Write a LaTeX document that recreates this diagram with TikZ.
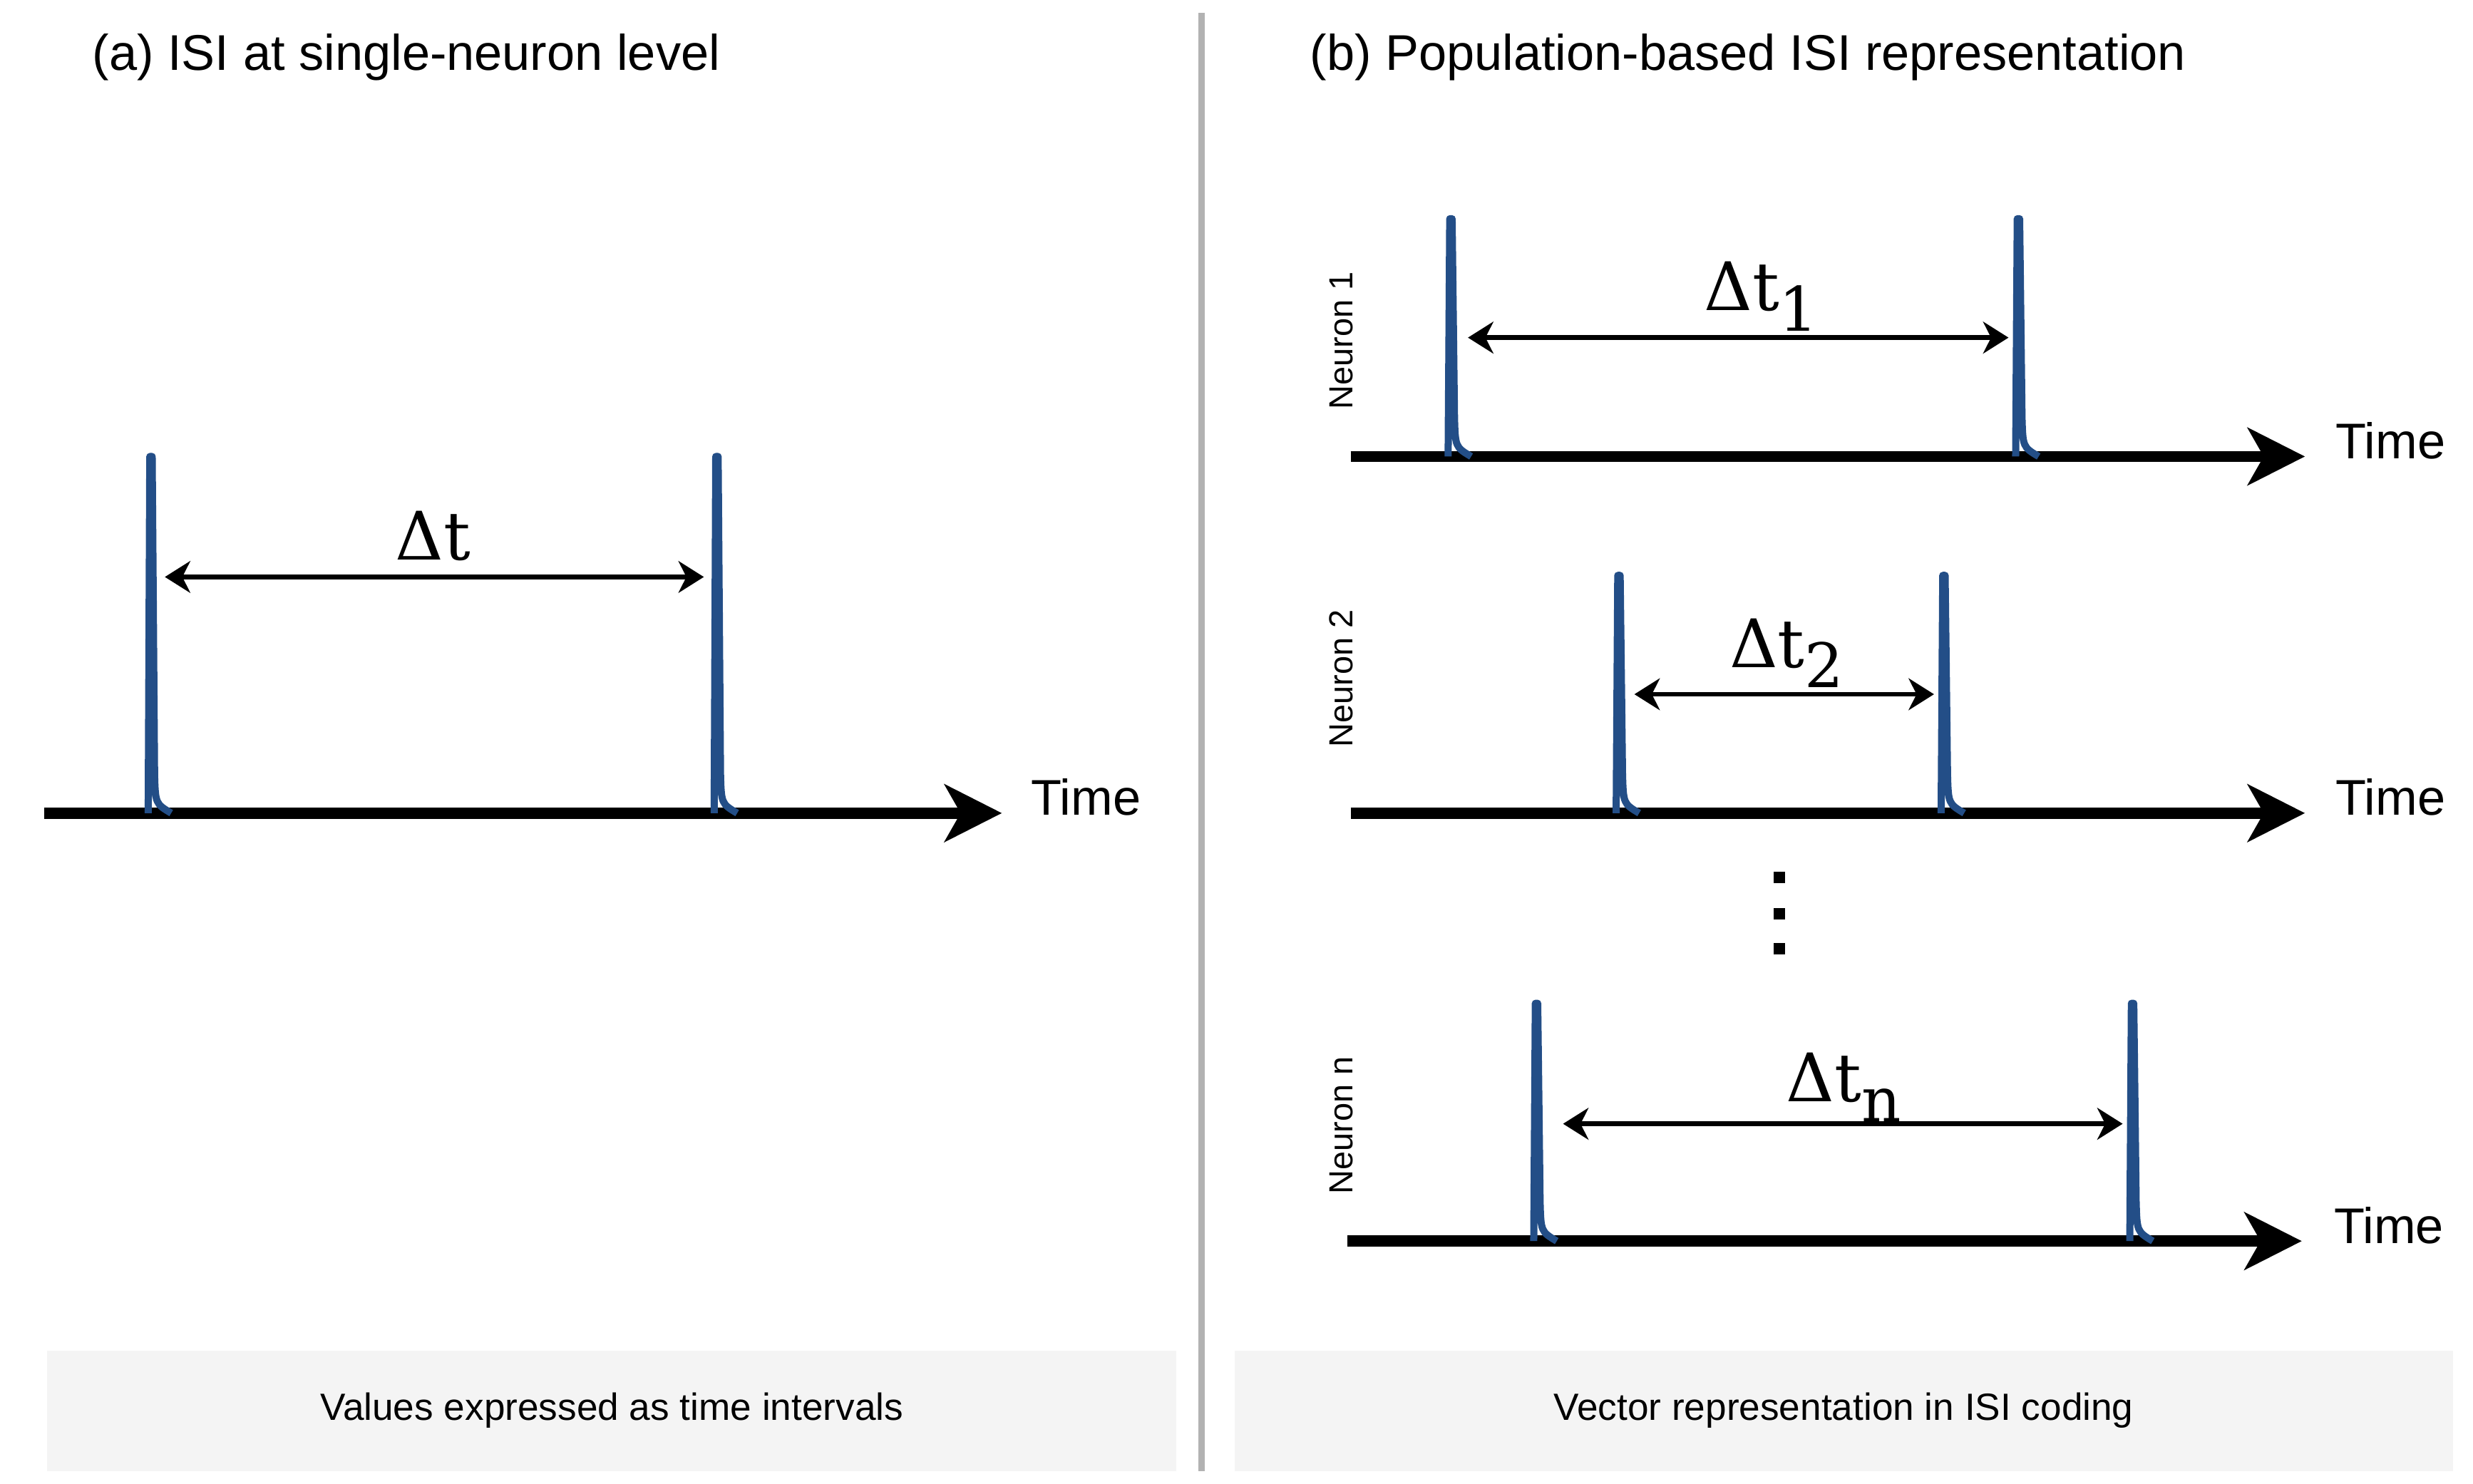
\documentclass[tikz,border=0pt]{standalone}
\usepackage{fontspec}
\setmainfont{Liberation Sans}
\newfontfamily\dserif{DejaVu Serif}
\usetikzlibrary{arrows.meta}
\definecolor{spikeblue}{HTML}{234E87}
\definecolor{boxgray}{HTML}{F4F4F4}
\newcommand{\dsub}[1]{\raisebox{-0.3em}{\fontsize{11pt}{11pt}\selectfont #1}}
\begin{document}
\begin{tikzpicture}[x=0.01cm,y=-0.01cm,
  axis/.style={line width=0.07cm,-{Stealth[length=0.36cm,width=0.36cm,inset=0.1cm]}},
  interval/.style={line width=0.03cm,{Stealth[length=0.16cm,width=0.2cm,inset=0.05cm]}-{Stealth[length=0.16cm,width=0.2cm,inset=0.05cm]}},
  spike/.style={spikeblue,line width=0.045cm,line join=round},
  ttl/.style={font=\fontsize{9pt}{10pt}\selectfont,anchor=west},
  timelbl/.style={font=\fontsize{9pt}{10pt}\selectfont},
  dlbl/.style={font=\dserif\fontsize{12pt}{13pt}\selectfont},
  nlbl/.style={font=\fontsize{6pt}{7pt}\selectfont,rotate=90},
  capbox/.style={fill=boxgray,font=\fontsize{6.8pt}{8pt}\selectfont,inner sep=0pt}
]
\useasboundingbox (0,0) rectangle (1560,936);
\newcommand{\spk}[3]{% x, top, bottom
  \draw[spike] (#1-1.5,#3) -- (#1-0.5,#2) -- (#1+1,#2) -- (#1+2.5,#3-25) .. controls (#1+3,#3-6) .. (#1+13,#3);}
% divider
\draw[gray!60,line width=0.04cm] (758,8) -- (758,928);
% captions
\node[capbox,minimum width=7.12cm,minimum height=0.76cm] (capa) at (386,890) {Values expressed as time intervals};
\node[capbox,minimum width=7.68cm,minimum height=0.76cm] (capb) at (1163,890) {Vector representation in ISI coding};
% titles
\node[ttl] (ta) at (46,36) {(a) ISI at single-neuron level};
\node[ttl] (tb) at (814,36) {(b) Population-based ISI representation};
% panel a
\coordinate (a0) at (28,513); \coordinate (a1) at (632,513);
\draw[axis] (a0) -- (a1);
\node[timelbl] (timea) at (685,503) {Time};
\spk{95}{288}{513}\spk{452}{288}{513}
\coordinate (da0) at (104,364); \coordinate (da1) at (444,364);
\draw[interval] (da0) -- (da1);
\node[dlbl] (dta) at (273,338) {Δt};
% panel b rows
\coordinate (b10) at (852,288); \coordinate (b11) at (1454,288);
\draw[axis] (b10) -- (b11);
\node[timelbl] (time1) at (1508,278) {Time};
\spk{915}{138}{288}\spk{1273}{138}{288}
\coordinate (d10) at (926,213); \coordinate (d11) at (1267,213);
\draw[interval] (d10) -- (d11);
\node[dlbl] (dt1) at (1111,187) {Δt\dsub{1}};
\node[nlbl] (n1) at (846,215) {Neuron 1};

\coordinate (b20) at (852,513); \coordinate (b21) at (1454,513);
\draw[axis] (b20) -- (b21);
\node[timelbl] (time2) at (1508,503) {Time};
\spk{1021}{363}{513}\spk{1226}{363}{513}
\coordinate (d20) at (1031,438); \coordinate (d21) at (1220,438);
\draw[interval] (d20) -- (d21);
\node[dlbl] (dt2) at (1127,412) {Δt\dsub{2}};
\node[nlbl] (n2) at (846,428) {Neuron 2};

\foreach \yy in {557,580,602} \fill (1126,\yy) rectangle +(-7,-7) ;

\coordinate (b30) at (850,783); \coordinate (b31) at (1452,783);
\draw[axis] (b30) -- (b31);
\node[timelbl] (time3) at (1507,773) {Time};
\spk{969}{633}{783}\spk{1345}{633}{783}
\coordinate (d30) at (986,709); \coordinate (d31) at (1339,709);
\draw[interval] (d30) -- (d31);
\node[dlbl] (dtn) at (1163,686) {Δt\dsub{n}};
\node[nlbl] (n3) at (846,710) {Neuron n};
\end{tikzpicture}
\end{document}
